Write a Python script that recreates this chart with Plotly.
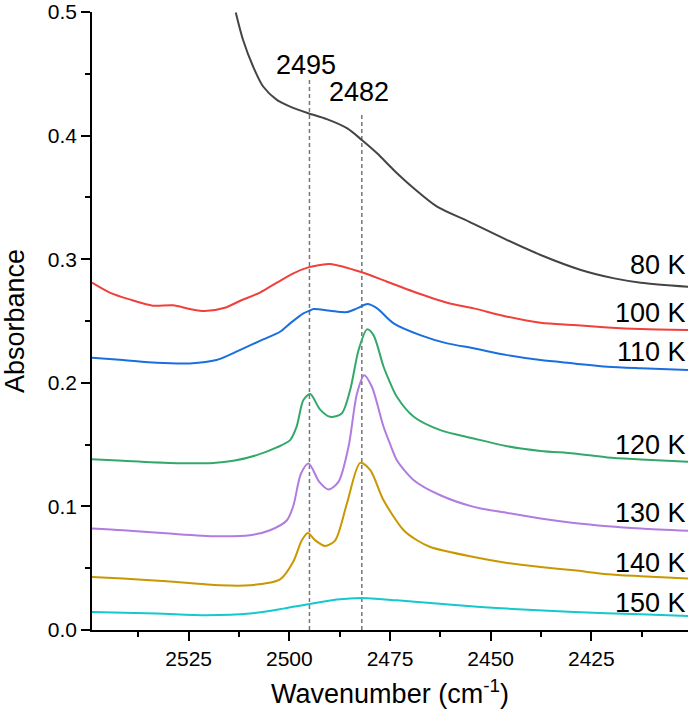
import plotly.graph_objects as go

# ---- data ----
x_80 = [2513.3, 2511.5, 2509, 2506.5, 2503.1, 2499.8, 2495.3, 2490.7, 2485.7, 2482, 2478.2,
        2474.1, 2469.1, 2463.3, 2455.4, 2445.9, 2437.6, 2427.6, 2419.3, 2412.7, 2400.8]
y_80 = [0.4996, 0.4775, 0.4559, 0.4397, 0.4289, 0.4235, 0.4181, 0.4133, 0.406, 0.3965, 0.3857,
        0.3722, 0.3574, 0.3425, 0.3304, 0.3155, 0.3034, 0.2913, 0.2845, 0.281, 0.2777]

x_100 = [2549, 2544.6, 2539.7, 2533.9, 2528.9, 2524.7, 2521, 2516, 2512.3, 2507.3, 2503.1, 2499,
         2495.3, 2492.4, 2489.9, 2482, 2475.7, 2469.1, 2460.8, 2454.2, 2445.9, 2437.6, 2429.3,
         2421, 2412.7, 2400.8]
y_100 = [0.281, 0.273, 0.2675, 0.2624, 0.2627, 0.2597, 0.258, 0.2607, 0.2662, 0.273, 0.281, 0.2886,
         0.2934, 0.2953, 0.2961, 0.2894, 0.2818, 0.2737, 0.2648, 0.2602, 0.2535, 0.2486, 0.2467,
         0.2448, 0.2435, 0.2427]

x_110 = [2549, 2541.3, 2533, 2524.7, 2518.1, 2512.3, 2506.5, 2502.3, 2499.8, 2496.5, 2495, 2494,
         2489.9, 2485.7, 2483.2, 2480.6, 2478.2, 2474.1, 2467.5, 2460.8, 2454.2, 2445.9, 2437.6,
         2429.3, 2421, 2412.7, 2400.8]
y_110 = [0.2202, 0.2184, 0.2162, 0.2157, 0.2184, 0.2265, 0.2351, 0.2413, 0.2481, 0.2562, 0.2583,
         0.2597, 0.2583, 0.2572, 0.2602, 0.2637, 0.2602, 0.2481, 0.2386, 0.2319, 0.2279, 0.2224,
         0.2184, 0.2157, 0.213, 0.2117, 0.2103]

x_120 = [2549, 2541.3, 2529.7, 2518.9, 2513.9, 2508.1, 2503.1, 2499.8, 2498.2, 2496.5, 2494.8,
         2492.4, 2489.9, 2487, 2484.9, 2482.8, 2480.7, 2479.1, 2476.6, 2474.9, 2473.3, 2469.1,
         2462.5, 2454.2, 2445.9, 2437.6, 2429.3, 2421, 2412.7, 2400.8]
y_120 = [0.1382, 0.1369, 0.1352, 0.1352, 0.1369, 0.1415, 0.1477, 0.1536, 0.1644, 0.186, 0.1909,
         0.1785, 0.1725, 0.1752, 0.1941, 0.2265, 0.2432, 0.2386, 0.213, 0.1995, 0.1887, 0.1725,
         0.1617, 0.155, 0.1487, 0.1449, 0.1428, 0.1396, 0.138, 0.136]

x_130 = [2549, 2541.3, 2529.7, 2518.1, 2509.8, 2504.8, 2500.6, 2499, 2497.1, 2495.2, 2492.6,
         2490.3, 2487.8, 2485.3, 2483.2, 2481.4, 2479.5, 2476.6, 2474.9, 2473.3, 2469.1, 2462.5,
         2454.2, 2445.9, 2437.6, 2429.3, 2421, 2412.7, 2400.8]
y_130 = [0.0821, 0.0807, 0.078, 0.0759, 0.0767, 0.0807, 0.0888, 0.1005, 0.1266, 0.1347, 0.12,
         0.1137, 0.1198, 0.1482, 0.1914, 0.2062, 0.1968, 0.1644, 0.1498, 0.1374, 0.1212, 0.109,
         0.0996, 0.0947, 0.0902, 0.0866, 0.084, 0.0821, 0.0802]

x_140 = [2549, 2541.3, 2530.5, 2517.3, 2509.8, 2502.3, 2499, 2496.9, 2495.4, 2493.6, 2491.1,
         2488.6, 2485.7, 2482.4, 2479.9, 2476.6, 2471.6, 2468.3, 2465, 2454.2, 2445.9, 2437.6,
         2429.3, 2421, 2412.7, 2400.8]
y_140 = [0.0429, 0.0416, 0.0394, 0.0362, 0.0362, 0.041, 0.0555, 0.0726, 0.0785, 0.0726, 0.068,
         0.0726, 0.1023, 0.1352, 0.1293, 0.105, 0.0807, 0.0726, 0.0672, 0.0591, 0.0543, 0.051,
         0.0483, 0.0451, 0.0435, 0.0416]

x_150 = [2549, 2533, 2520.6, 2509.8, 2501.5, 2495.3, 2488.2, 2482, 2473.3, 2465, 2452.5, 2445.9,
         2429.3, 2412.7, 2400.8]
y_150 = [0.0146, 0.0133, 0.0119, 0.0133, 0.0173, 0.0208, 0.0246, 0.0259, 0.024, 0.0219, 0.0186,
         0.0173, 0.0146, 0.0127, 0.0113]

series_labels = ["80 K", "100 K", "110 K", "120 K", "130 K", "140 K", "150 K"]
label_y = [0.2953, 0.2564, 0.2249, 0.1496, 0.0945, 0.054, 0.0216]

peak_positions = [2495, 2482]
peak_line_tops = [0.445, 0.419]
peak_label_x = [2495.8, 2482.6]
peak_label_y = [0.457, 0.435]

x_tick_vals = [2525, 2500, 2475, 2450, 2425]
y_tick_vals = [0.0, 0.1, 0.2, 0.3, 0.4, 0.5]

# ---- styling ----
colors = ["#444444", "#f0403c", "#1a6fe0", "#34a86a", "#b07ce0", "#c99700", "#14c8cc"]
FONT = "Liberation Sans, Arial, sans-serif"

fig = go.Figure()

xs = [x_80, x_100, x_110, x_120, x_130, x_140, x_150]
ys = [y_80, y_100, y_110, y_120, y_130, y_140, y_150]

# dashed reference lines
for px, top in zip(peak_positions, peak_line_tops):
    fig.add_trace(go.Scatter(x=[px, px], y=[0, top], mode="lines",
                             line=dict(color="#777777", width=1.5, dash="4px,3px"),
                             showlegend=False, hoverinfo="skip"))

for xv, yv, c, name in zip(xs, ys, colors, series_labels):
    fig.add_trace(go.Scatter(x=xv, y=yv, mode="lines", name=name,
                             line=dict(color=c, width=2, shape="spline", smoothing=0.8),
                             showlegend=False))

for name, ly in zip(series_labels, label_y):
    fig.add_annotation(x=1.0, xref="paper", y=ly, yref="y", text=name, showarrow=False,
                       xanchor="right", yanchor="middle",
                       font=dict(size=27, color="black", family=FONT))

for lx, ly, pv in zip(peak_label_x, peak_label_y, peak_positions):
    fig.add_annotation(x=lx, y=ly, text=str(pv), showarrow=False,
                       xanchor="center", yanchor="middle",
                       font=dict(size=27, color="black", family=FONT))

fig.update_layout(
    width=695, height=724,
    margin=dict(l=92, r=7, t=12, b=94, autoexpand=False),
    paper_bgcolor="white", plot_bgcolor="white",
    font=dict(family=FONT, size=20, color="black"),
    showlegend=False,
)

fig.update_xaxes(
    range=[2549, 2401], autorange=False, automargin=False,
    tickvals=x_tick_vals, ticks="outside", ticklen=9, tickwidth=1.5, tickcolor="black",
    showline=True, linecolor="black", linewidth=1.5, showgrid=False, zeroline=False,
    minor=dict(dtick=12.5, tick0=2500, ticks="outside", ticklen=5, tickwidth=1.5, tickcolor="black"),
    tickfont=dict(size=21, family=FONT),
    title=dict(text="Wavenumber (cm<sup>-1</sup>)", font=dict(size=27, family=FONT), standoff=15),
)
fig.update_yaxes(
    range=[0, 0.5], autorange=False, automargin=False,
    tickvals=y_tick_vals, tickformat=".1f", ticks="outside", ticklen=9, tickwidth=1.5,
    tickcolor="black", ticklabeloverflow="allow",
    showline=True, linecolor="black", linewidth=1.5, showgrid=False, zeroline=False,
    minor=dict(dtick=0.05, tick0=0, ticks="outside", ticklen=5, tickwidth=1.5, tickcolor="black"),
    tickfont=dict(size=21, family=FONT),
    title=dict(text="Absorbance", font=dict(size=27, family=FONT), standoff=20),
)

# remove the default 8px page margin so the figure fills the window exactly
fig.write_html("out.html", config={"displayModeBar": False},
               post_script="document.body.style.margin='0px';")
